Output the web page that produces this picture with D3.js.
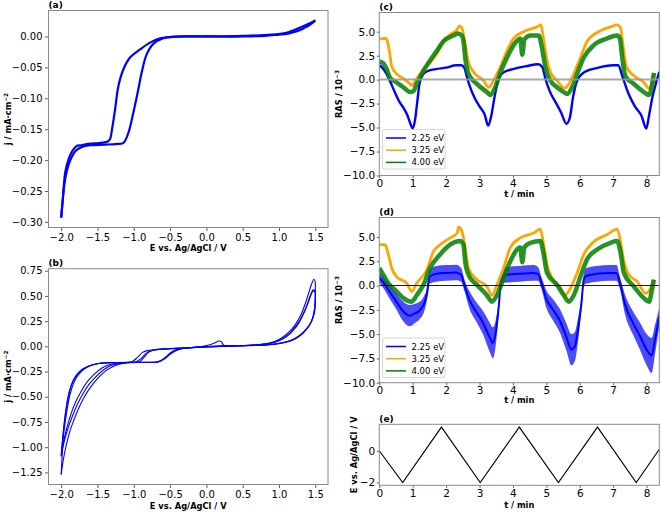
<!DOCTYPE html>
<html><head><meta charset="utf-8">
<script src="https://cdn.jsdelivr.net/npm/d3@7"></script>
<style>
body{margin:0;background:#fff}
svg{display:block}
text{font-family:"DejaVu Sans",sans-serif;fill:#000}
</style>
</head><body>
<svg id="fig" width="661" height="513"></svg>
<script>
// ---------------- DATA ----------------
// (a) single CV: negative sweep and positive sweep, [E (V), j (mA cm^-2)]
const cvA_neg = [[1.5,0.026],[1.45,0.021],[1.4,0.017],[1.35,0.014],[1.3,0.011],[1.2,0.007],[1.1,0.004],[1.0,0.003],[0.8,0.001],[0.5,0.0],[0.0,0.0],[-0.3,0.0],[-0.5,-0.001],[-0.64,-0.003],[-0.777,-0.010],[-0.914,-0.021],[-1.052,-0.034],[-1.143,-0.053],[-1.212,-0.080],[-1.258,-0.118],[-1.30,-0.150],[-1.327,-0.166],[-1.36,-0.170],[-1.45,-0.172],[-1.55,-0.173],[-1.65,-0.174],[-1.72,-0.176],[-1.785,-0.177],[-1.85,-0.186],[-1.90,-0.199],[-1.945,-0.220],[-1.977,-0.262],[-2.0,-0.293]];
const cvA_pos = [[-2.0,-0.293],[-1.985,-0.272],[-1.955,-0.238],[-1.91,-0.212],[-1.86,-0.196],[-1.8,-0.185],[-1.72,-0.179],[-1.6,-0.176],[-1.4,-0.175],[-1.25,-0.174],[-1.143,-0.172],[-1.075,-0.156],[-1.006,-0.123],[-0.937,-0.085],[-0.891,-0.058],[-0.823,-0.029],[-0.731,-0.012],[-0.594,-0.003],[-0.456,-0.0005],[0.0,0.0],[0.5,0.001],[0.9,0.003],[1.1,0.006],[1.2,0.010],[1.3,0.015],[1.4,0.020],[1.5,0.026]];

// (b) three CV cycles
const cvB1_neg = [[1.5,0.64],[1.5,0.5],[1.49,0.38],[1.47,0.3],[1.44,0.24],[1.4,0.19],[1.33,0.13],[1.25,0.085],[1.15,0.05],[1.0,0.025],[0.8,0.012],[0.5,0.005],[0.2,0.0],[0.0,-0.004],[-0.3,-0.015],[-0.6,-0.028],[-0.8,-0.04],[-0.88,-0.06],[-0.95,-0.11],[-1.02,-0.15],[-1.1,-0.158],[-1.3,-0.16],[-1.45,-0.165],[-1.55,-0.18],[-1.65,-0.21],[-1.75,-0.27],[-1.82,-0.35],[-1.88,-0.48],[-1.93,-0.68],[-1.97,-0.9],[-2.0,-1.27]];
const cvB1_pos = [[-2.0,-1.27],[-1.97,-1.12],[-1.93,-0.98],[-1.88,-0.84],[-1.83,-0.74],[-1.75,-0.6],[-1.68,-0.5],[-1.6,-0.41],[-1.5,-0.32],[-1.4,-0.25],[-1.3,-0.205],[-1.2,-0.178],[-1.1,-0.165],[-0.9,-0.16],[-0.7,-0.158],[-0.62,-0.14],[-0.55,-0.1],[-0.48,-0.055],[-0.4,-0.03],[-0.3,-0.018],[-0.1,-0.006],[0.05,0.015],[0.12,0.035],[0.17,0.053],[0.21,0.043],[0.24,0.01],[0.4,0.008],[0.7,0.015],[0.85,0.03],[0.95,0.05],[1.05,0.09],[1.15,0.15],[1.22,0.21],[1.3,0.31],[1.36,0.42],[1.41,0.53],[1.45,0.62],[1.48,0.665],[1.5,0.64]];
const cvB2_neg = [[1.5,0.55],[1.5,0.44],[1.48,0.32],[1.45,0.25],[1.4,0.19],[1.33,0.135],[1.25,0.09],[1.15,0.055],[1.0,0.028],[0.8,0.013],[0.5,0.006],[0.2,0.0],[0.0,-0.005],[-0.3,-0.016],[-0.6,-0.026],[-0.72,-0.035],[-0.8,-0.06],[-0.86,-0.11],[-0.92,-0.15],[-1.0,-0.158],[-1.2,-0.16],[-1.4,-0.165],[-1.5,-0.172],[-1.6,-0.19],[-1.7,-0.225],[-1.78,-0.28],[-1.85,-0.37],[-1.9,-0.5],[-1.95,-0.72],[-2.0,-1.07]];
const cvB2_pos = [[-2.0,-1.07],[-1.96,-0.92],[-1.92,-0.8],[-1.86,-0.66],[-1.8,-0.55],[-1.72,-0.44],[-1.64,-0.35],[-1.55,-0.28],[-1.45,-0.22],[-1.35,-0.185],[-1.25,-0.168],[-1.1,-0.16],[-0.8,-0.158],[-0.68,-0.155],[-0.6,-0.13],[-0.52,-0.085],[-0.45,-0.05],[-0.35,-0.025],[-0.1,-0.006],[0.2,0.004],[0.5,0.008],[0.75,0.018],[0.9,0.035],[1.0,0.06],[1.1,0.1],[1.2,0.17],[1.28,0.25],[1.35,0.35],[1.4,0.44],[1.44,0.52],[1.47,0.56],[1.5,0.55]];
const cvB3_neg = [[1.5,0.54],[1.5,0.42],[1.49,0.34],[1.46,0.27],[1.42,0.21],[1.35,0.15],[1.27,0.1],[1.17,0.06],[1.0,0.03],[0.8,0.014],[0.5,0.006],[0.2,0.0],[0.0,-0.006],[-0.3,-0.017],[-0.6,-0.028],[-0.75,-0.04],[-0.83,-0.07],[-0.9,-0.12],[-0.97,-0.152],[-1.1,-0.16],[-1.3,-0.162],[-1.45,-0.168],[-1.55,-0.18],[-1.65,-0.205],[-1.75,-0.25],[-1.83,-0.33],[-1.89,-0.45],[-1.94,-0.65],[-2.0,-1.09]];
const cvB3_pos = [[-2.0,-1.09],[-1.96,-0.95],[-1.91,-0.82],[-1.85,-0.7],[-1.78,-0.58],[-1.7,-0.47],[-1.62,-0.38],[-1.52,-0.3],[-1.42,-0.235],[-1.32,-0.19],[-1.2,-0.17],[-1.05,-0.16],[-0.8,-0.158],[-0.66,-0.154],[-0.58,-0.125],[-0.5,-0.08],[-0.43,-0.045],[-0.33,-0.022],[-0.1,-0.006],[0.2,0.004],[0.5,0.008],[0.75,0.017],[0.9,0.033],[1.0,0.055],[1.1,0.095],[1.2,0.16],[1.28,0.24],[1.35,0.34],[1.4,0.43],[1.44,0.51],[1.47,0.55],[1.5,0.54]];

// (c) RAS transients (10^-3), time in min
const labels = ["2.25 eV","3.25 eV","4.00 eV"];
const tC_225 = [0,0.1,0.2,0.3,0.45,0.6,0.75,0.85,0.92,1.0,1.07,1.14,1.2,1.3,1.45,1.7,2.0,2.3,2.45,2.55,2.62,2.7,2.85,3.0,3.15,3.26,3.35,3.45,3.55,3.7,4.0,4.4,4.75,4.88,4.97,5.1,5.3,5.45,5.6,5.7,5.8,5.9,6.1,6.5,7.0,7.15,7.28,7.45,7.65,7.85,7.99,8.07,8.17,8.27,8.38];
const vC_225 = [1.5,1.2,0.7,0.0,-1.2,-2.3,-3.1,-3.8,-4.5,-5.1,-4.2,-2.2,-0.5,0.5,0.9,1.1,1.25,1.5,1.5,1.2,0.3,-0.6,-1.9,-2.8,-3.6,-4.8,-3.8,-1.8,-0.2,0.7,1.1,1.4,1.6,1.3,0.1,-1.2,-2.5,-3.5,-4.6,-4.0,-1.8,-0.3,0.7,1.2,1.5,1.5,0.3,-1.4,-2.8,-3.8,-5.1,-3.8,-1.9,-0.5,0.8];
const tC_325 = [0,0.2,0.3,0.37,0.52,0.72,0.92,0.97,1.12,1.32,1.52,1.72,1.92,2.12,2.32,2.4,2.47,2.57,2.67,2.82,3.12,3.27,3.42,3.62,3.82,4.02,4.32,4.72,4.84,4.92,5.02,5.12,5.32,5.55,5.67,5.82,6.02,6.22,6.52,6.92,7.12,7.22,7.3,7.4,7.62,7.92,8.07,8.17,8.22];
const vC_325 = [4.25,4.3,3.0,1.4,0.6,0.1,-0.45,-0.6,0.1,1.1,1.8,2.7,4.0,4.7,5.2,5.6,5.4,3.7,1.8,0.8,-0.1,-0.8,-0.1,1.3,3.0,4.3,5.0,5.5,5.7,4.1,2.0,0.8,-0.1,-0.9,-0.45,0.6,2.3,4.0,4.9,5.5,5.7,5.4,3.4,1.3,0.4,-0.3,-0.9,-0.1,0.7];
const tC_400 = [0,0.12,0.22,0.32,0.52,0.72,0.92,1.02,1.12,1.32,1.52,1.72,1.92,2.22,2.35,2.47,2.52,2.57,2.67,2.92,3.22,3.32,3.47,3.62,3.82,4.02,4.22,4.28,4.34,4.52,4.77,4.87,4.97,5.12,5.32,5.52,5.62,5.77,5.92,6.12,6.42,6.82,7.12,7.2,7.27,7.37,7.62,7.92,8.07,8.17,8.22];
const vC_400 = [1.9,1.7,1.1,0.2,-0.3,-0.8,-1.3,-1.2,-0.45,0.9,2.0,3.0,4.0,4.6,4.8,4.6,4.0,2.3,0.6,-0.45,-1.3,-1.6,-0.8,0.7,2.3,3.6,4.3,2.6,4.2,4.6,4.6,3.3,1.3,-0.1,-0.8,-1.3,-1.5,-0.8,0.6,2.3,3.6,4.3,4.6,4.3,2.3,0.3,-0.45,-1.3,-1.6,-0.45,0.7];

// (d) RAS transients (10^-3)
const tD_225 = [0,0.15,0.3,0.5,0.7,0.9,1.05,1.2,1.35,1.43,1.5,1.7,2.0,2.3,2.45,2.55,2.7,2.9,3.1,3.3,3.4,3.5,3.58,3.65,3.8,4.2,4.6,4.75,4.85,5.0,5.2,5.4,5.6,5.75,5.85,5.95,6.05,6.12,6.2,6.5,6.9,7.1,7.2,7.35,7.6,7.8,8.0,8.15,8.25,8.38];
const vD_225 = [0.8,0.2,-0.6,-1.6,-2.6,-3.1,-2.9,-2.6,-1.8,-0.8,0.9,1.2,1.3,1.35,1.1,0.0,-1.5,-2.7,-3.8,-5.3,-5.9,-4.5,-2.0,0.8,1.1,1.2,1.3,1.2,0.3,-1.4,-2.5,-3.6,-5.3,-6.6,-6.3,-4.5,-1.8,0.6,1.0,1.2,1.3,1.3,0.3,-1.9,-3.9,-5.2,-6.6,-7.2,-5.6,-3.2];
const loD_225 = [0.3,-0.4,-1.3,-2.4,-3.6,-4.2,-3.9,-3.5,-2.6,-1.4,0.2,0.4,0.5,0.55,0.4,-0.6,-2.4,-3.7,-5.0,-6.8,-7.5,-5.7,-2.6,0.2,0.3,0.4,0.5,0.5,-0.3,-2.3,-3.6,-4.8,-6.7,-8.2,-7.8,-5.7,-2.4,0.0,0.2,0.4,0.5,0.5,-0.3,-2.9,-5.1,-6.6,-8.2,-9.0,-7.1,-4.2];
const hiD_225 = [1.3,0.8,0.1,-0.8,-1.6,-2.0,-1.9,-1.7,-1.0,-0.2,1.6,2.0,2.1,2.15,1.8,0.6,-0.6,-1.7,-2.6,-3.8,-4.3,-3.3,-1.4,1.4,1.9,2.0,2.1,1.9,0.9,-0.5,-1.4,-2.4,-3.9,-5.0,-4.8,-3.3,-1.2,1.2,1.8,2.0,2.1,2.1,0.9,-0.9,-2.7,-3.8,-5.0,-5.4,-4.1,-2.2];
const tD_325 = [0,0.17,0.27,0.37,0.52,0.82,0.97,1.12,1.42,1.62,1.82,2.12,2.33,2.37,2.47,2.57,2.67,2.92,3.22,3.37,3.52,3.72,3.92,4.22,4.62,4.82,4.92,5.02,5.17,5.42,5.57,5.72,5.92,6.12,6.42,6.82,7.12,7.22,7.32,7.47,7.72,7.97,8.12,8.2];
const vD_325 = [4.2,4.2,3.2,1.8,0.9,0.24,-0.62,0.24,1.6,3.5,4.2,4.9,5.4,6.0,5.6,3.9,1.8,0.6,-0.1,-1.0,0.07,1.8,3.9,4.9,5.4,5.8,4.2,2.15,0.76,-0.28,-1.0,-0.28,1.28,3.2,4.5,5.26,5.8,4.5,2.5,1.1,0.4,-0.8,-0.28,0.6];
const tD_400 = [0,0.12,0.27,0.52,0.72,0.97,1.12,1.32,1.52,1.82,2.12,2.42,2.52,2.57,2.67,2.92,3.22,3.37,3.52,3.72,3.92,4.22,4.28,4.34,4.52,4.82,4.92,5.02,5.32,5.52,5.67,5.82,6.02,6.22,6.52,6.92,7.12,7.22,7.32,7.62,7.92,8.07,8.17,8.22];
const vD_400 = [1.8,1.1,0.24,-0.62,-1.3,-1.66,-1.0,0.07,1.8,3.2,4.2,4.57,4.2,2.5,1.1,0.07,-1.0,-1.66,-1.0,0.76,2.5,3.9,2.4,3.9,4.4,4.57,3.2,1.3,0.07,-1.0,-1.66,-1.0,0.93,2.7,3.7,4.4,4.57,3.4,1.3,-0.1,-1.3,-1.66,-0.28,0.6];

// (e) applied potential (V vs Ag/AgCl)
const tE = [0,0.70,1.86,3.02,4.19,5.36,6.53,7.69,8.38];
const vE = [0,-2,1.5,-2,1.5,-2,1.5,-2,0.1];

// ticks
const ticksCV_x = [-2.0,-1.5,-1.0,-0.5,0.0,0.5,1.0,1.5];
const ticksA_y = [0.00,-0.05,-0.10,-0.15,-0.20,-0.25,-0.30];
const ticksB_y = [0.75,0.50,0.25,0.00,-0.25,-0.50,-0.75,-1.00,-1.25];
const ticksT_x = [0,1,2,3,4,5,6,7,8];
const ticksRAS_y = [5.0,2.5,0.0,-2.5,-5.0,-7.5,-10.0];
const ticksE_y = [0,-2];

// ---------------- DRAWING ----------------
const svg = d3.select("#fig");
const FRAME = "#8a8a8a";
const COL = {b:"#0000ff", o:"#ffa500", g:"#008000"};

// label given as [mainText, superscript]
function addLabel(sel, parts){
  sel.append("tspan").text(parts[0]);
  if(parts[1]) sel.append("tspan").attr("font-size",5.8).attr("dy",-3.3).text(parts[1]);
}

function panel(o){
  const x = d3.scaleLinear().domain(o.xd).range([o.x0,o.x1]);
  const y = d3.scaleLinear().domain(o.yd).range([o.y1,o.y0]);
  const g = svg.append("g");
  const cid = "clip_"+o.name;
  svg.append("clipPath").attr("id",cid).append("rect")
     .attr("x",o.x0).attr("y",o.y0).attr("width",o.x1-o.x0).attr("height",o.y1-o.y0);
  const plot = g.append("g").attr("clip-path",`url(#${cid})`);
  const xa = g.append("g").attr("transform",`translate(0,${o.y1})`)
    .call(d3.axisBottom(x).tickValues(o.xt).tickFormat(o.xf).tickSize(o.ts).tickSizeOuter(0).tickPadding(o.tp));
  const ya = g.append("g").attr("transform",`translate(${o.x0},0)`)
    .call(d3.axisLeft(y).tickValues(o.yt).tickFormat(o.yf).tickSize(o.ts).tickSizeOuter(0).tickPadding(o.tp));
  [xa,ya].forEach(a=>{
    a.select(".domain").remove();
    a.selectAll(".tick line").attr("stroke","#333").attr("stroke-width",0.8);
    a.selectAll(".tick text").attr("font-size",o.fs).attr("font-family","DejaVu Sans").attr("fill","#000");
  });
  g.append("text").attr("x",o.x0).attr("y",o.y0-2.5).attr("font-size",9).attr("font-weight","bold").text(o.label);
  addLabel(g.append("text").attr("x",(o.x0+o.x1)/2).attr("y",o.xly).attr("text-anchor","middle")
    .attr("font-size",8.3).attr("font-weight","bold"), o.xl);
  addLabel(g.append("text").attr("transform",`translate(${o.ylx},${(o.y0+o.y1)/2}) rotate(-90)`)
    .attr("text-anchor","middle").attr("font-size",8.3).attr("font-weight","bold"), o.yl);
  const frame = ()=> g.append("rect").attr("x",o.x0).attr("y",o.y0).attr("width",o.x1-o.x0).attr("height",o.y1-o.y0)
    .attr("fill","none").attr("stroke",FRAME).attr("stroke-width",1);
  return {x,y,plot,g,frame};
}

const f2 = d3.format(".2f"), f1 = d3.format(".1f"), f0 = d3.format("d");
const zip = (t,v)=>t.map((d,i)=>[d,v[i]]);
const XL_E = ["E vs. Ag/AgCl / V"], YL_J = ["j / mA·cm","−2"], XL_T = ["t / min"], YL_R = ["RAS / 10","−3"];

// (a)
const pa = panel({name:"a",x0:48.5,x1:328,y0:10.5,y1:227.5,xd:[-2.175,1.675],yd:[-0.309,0.042],
  xt:ticksCV_x,yt:ticksA_y,xf:f1,yf:f2,fs:10,ts:3.5,tp:2.5,label:"(a)",xl:XL_E,xly:251,yl:YL_J,ylx:11});
const lineA = d3.line().x(d=>pa.x(d[0])).y(d=>pa.y(d[1])).curve(d3.curveCatmullRom.alpha(0.5));
[cvA_neg,cvA_pos].forEach(s=>pa.plot.append("path").attr("d",lineA(s)).attr("fill","none")
  .attr("stroke",COL.b).attr("stroke-width",2.2).attr("stroke-linejoin","round"));
pa.frame();

// (b)
const pb = panel({name:"b",x0:48.5,x1:328,y0:268.7,y1:484.5,xd:[-2.175,1.675],yd:[-1.37,0.77],
  xt:ticksCV_x,yt:ticksB_y,xf:f1,yf:f2,fs:10,ts:3.5,tp:2.5,label:"(b)",xl:XL_E,xly:509,yl:YL_J,ylx:11});
const lineB = d3.line().x(d=>pb.x(d[0])).y(d=>pb.y(d[1])).curve(d3.curveCatmullRom.alpha(0.5));
[cvB1_neg,cvB1_pos,cvB2_neg,cvB2_pos,cvB3_neg,cvB3_pos].forEach(s=>pb.plot.append("path").attr("d",lineB(s))
  .attr("fill","none").attr("stroke",COL.b).attr("stroke-width",1.1).attr("stroke-linejoin","round"));
pb.frame();

// (c)
const pc = panel({name:"c",x0:379.3,x1:659.3,y0:12.5,y1:175.5,xd:[0,8.38],yd:[-10,7],
  xt:ticksT_x,yt:ticksRAS_y,xf:f0,yf:f1,fs:10.5,ts:2.5,tp:1.5,label:"(c)",xl:XL_T,xly:197,yl:YL_R,ylx:342});
const lineC = d3.line().x(d=>pc.x(d[0])).y(d=>pc.y(d[1])).curve(d3.curveMonotoneX);
pc.plot.append("path").attr("d",lineC(zip(tC_225,vC_225))).attr("fill","none").attr("stroke",COL.b).attr("stroke-width",2.4);
pc.plot.append("path").attr("d",lineC(zip(tC_325,vC_325))).attr("fill","none").attr("stroke",COL.o).attr("stroke-width",2.8);
pc.plot.append("path").attr("d",lineC(zip(tC_400,vC_400))).attr("fill","none").attr("stroke",COL.g).attr("stroke-width",4.5).attr("stroke-opacity",0.85);
pc.plot.append("line").attr("x1",pc.x(0)).attr("x2",pc.x(8.38)).attr("y1",pc.y(0)).attr("y2",pc.y(0))
  .attr("stroke","#999").attr("stroke-width",2).attr("stroke-opacity",0.85);
pc.frame();

// (d)
const pd = panel({name:"d",x0:379.3,x1:659.3,y0:217.5,y1:382.7,xd:[0,8.38],yd:[-10,7],
  xt:ticksT_x,yt:ticksRAS_y,xf:f0,yf:f1,fs:10.5,ts:2.5,tp:1.5,label:"(d)",xl:XL_T,xly:403,yl:YL_R,ylx:342});
const lineD = d3.line().x(d=>pd.x(d[0])).y(d=>pd.y(d[1])).curve(d3.curveMonotoneX);
const areaD = d3.area().x((d,i)=>pd.x(tD_225[i])).y0((d,i)=>pd.y(loD_225[i])).y1((d,i)=>pd.y(hiD_225[i])).curve(d3.curveMonotoneX);
pd.plot.append("path").attr("d",areaD(tD_225)).attr("fill",COL.b).attr("fill-opacity",0.7);
pd.plot.append("path").attr("d",lineD(zip(tD_225,vD_225))).attr("fill","none").attr("stroke",COL.b).attr("stroke-width",2);
pd.plot.append("path").attr("d",lineD(zip(tD_325,vD_325))).attr("fill","none").attr("stroke",COL.o).attr("stroke-width",2.8);
pd.plot.append("path").attr("d",lineD(zip(tD_400,vD_400))).attr("fill","none").attr("stroke",COL.g).attr("stroke-width",4.5).attr("stroke-opacity",0.85);
pd.plot.append("line").attr("x1",pd.x(0)).attr("x2",pd.x(8.38)).attr("y1",pd.y(0)).attr("y2",pd.y(0))
  .attr("stroke","#000").attr("stroke-width",0.9);
pd.frame();

// legends
function legend(p, x0, y0){
  const g = p.g.append("g");
  g.append("rect").attr("x",x0).attr("y",y0).attr("width",62.5).attr("height",39.5).attr("rx",2)
    .attr("fill","#fff").attr("fill-opacity",0.8).attr("stroke","#ccc").attr("stroke-width",0.8);
  const cols=[COL.b,COL.o,COL.g];
  labels.forEach((l,i)=>{
    const yy = y0+8.5+i*12.2;
    g.append("line").attr("x1",x0+3.5).attr("x2",x0+23.5).attr("y1",yy).attr("y2",yy).attr("stroke",cols[i]).attr("stroke-width",1.5);
    g.append("text").attr("x",x0+29).attr("y",yy+3).attr("font-size",8.5).text(l);
  });
}
legend(pc,382.5,129.5);
legend(pd,382.5,338);

// (e)
const pe = panel({name:"e",x0:379.3,x1:659.3,y0:424.3,y1:485.3,xd:[0,8.38],yd:[-2.175,1.675],
  xt:ticksT_x,yt:ticksE_y,xf:f0,yf:f0,fs:10.5,ts:2.5,tp:1.5,label:"(e)",xl:XL_T,xly:508,yl:XL_E,ylx:357});
pe.plot.append("path").attr("d",d3.line().x(d=>pe.x(d[0])).y(d=>pe.y(d[1]))(zip(tE,vE)))
  .attr("fill","none").attr("stroke","#000").attr("stroke-width",1.1);
pe.frame();
</script>
</body></html>
